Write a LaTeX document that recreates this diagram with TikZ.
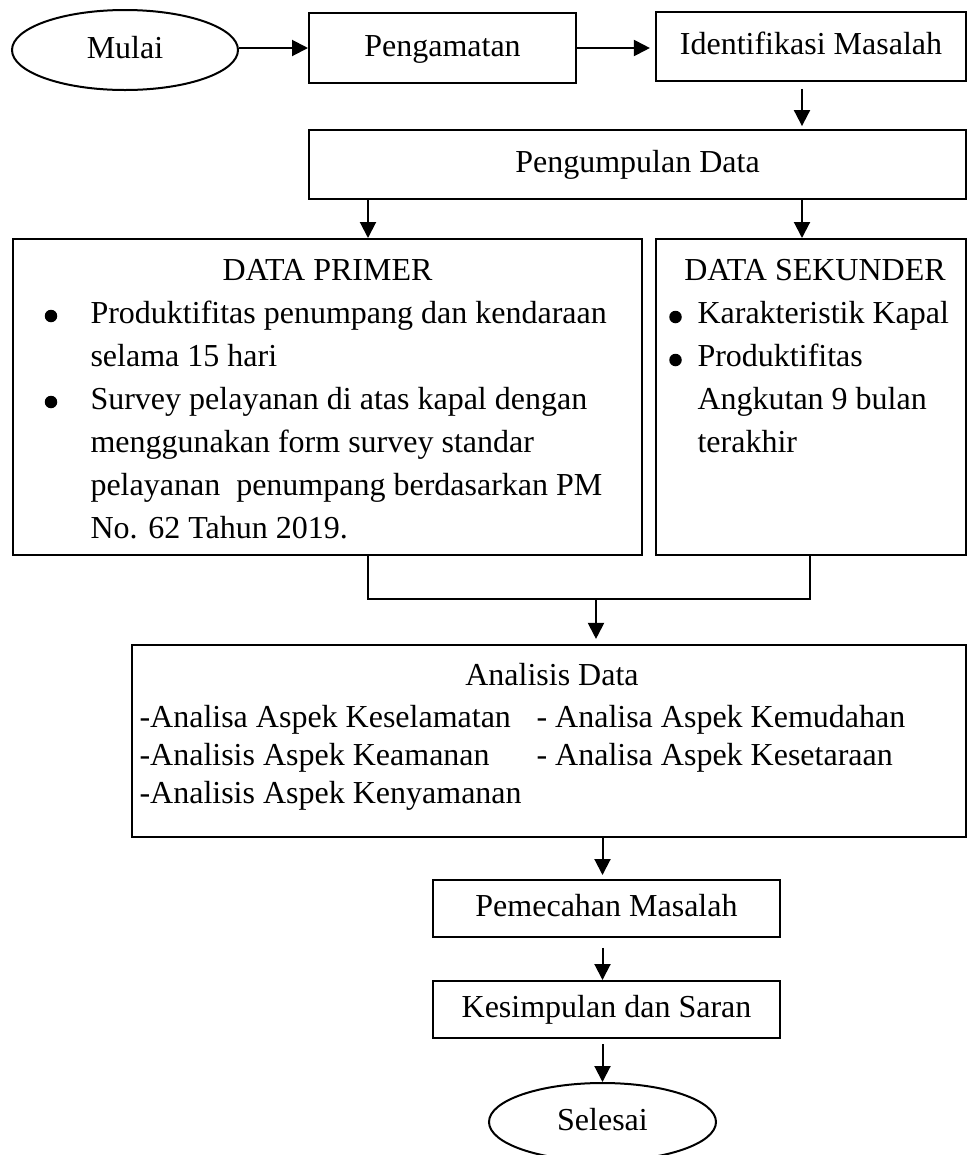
\documentclass[tikz,border=0pt]{standalone}
\usepackage{fontspec}
\setmainfont{Liberation Serif}
\usetikzlibrary{arrows.meta,shapes.geometric}
\newdimen\pxu \pxu=0.375pt
\tikzset{
  box/.style={draw, rectangle, inner sep=0pt, line width=0.75pt, text height=0.7em, text depth=0.1em},
  oval/.style={draw, ellipse, inner sep=0pt, line width=0.75pt, text height=0.7em, text depth=0.1em},
  ttl/.style={inner sep=0pt, anchor=base},
  txt/.style={inner sep=0pt, anchor=base west},
  dot/.style={circle, fill, inner sep=0pt, minimum size=12.5\pxu},
  link/.style={line width=0.75pt},
  arr/.style={link, -{Triangle[length=6pt,width=6pt]}},
}
\begin{document}
\begin{tikzpicture}[x=0.375pt, y=-0.375pt, font=\fontsize{12}{16}\selectfont]
  \useasboundingbox (0,0) rectangle (968,1155);
  \clip (0,0) rectangle (968,1155);

  % top row
  \node[oval, minimum width=226\pxu, minimum height=80\pxu] (mulai) at (125,50) {Mulai};
  \node[box, minimum width=267\pxu, minimum height=70\pxu] (amat) at (442.5,48) {Pengamatan};
  \node[box, minimum width=310\pxu, minimum height=69\pxu] (ident) at (811,46.5) {Identifikasi Masalah};
  \node[box, minimum width=657\pxu, minimum height=69\pxu] (kumpul) at (637.5,164.5) {Pengumpulan Data};

  % data boxes
  \node[box, minimum width=629\pxu, minimum height=316\pxu] (primer) at (327.5,397) {};
  \node[box, minimum width=310\pxu, minimum height=316\pxu] (sekunder) at (811,397) {};

  \node[ttl] (ptitle) at (327.5,280) {DATA PRIMER};
  \node[dot] (pb1) at (51,316) {};
  \node[txt] (p1) at (90,323) {Produktifitas penumpang dan kendaraan};
  \node[txt] (p2) at (90,366) {selama 15 hari};
  \node[dot] (pb2) at (51,402) {};
  \node[txt] (p3) at (90,409) {Survey pelayanan di atas kapal dengan};
  \node[txt] (p4) at (90,452) {menggunakan form survey standar};
  \node[txt] (p5) at (90,495) {pelayanan\ \ penumpang berdasarkan PM};
  \node[txt] (p6) at (90,538) {No. 62 Tahun 2019.};

  \node[ttl] (stitle) at (815,280) {DATA SEKUNDER};
  \node[dot] (sb1) at (675.5,317) {};
  \node[txt] (s1) at (697,323) {Karakteristik Kapal};
  \node[dot] (sb2) at (675.5,360) {};
  \node[txt] (s2) at (697,366) {Produktifitas};
  \node[txt] (s3) at (697,409) {Angkutan 9 bulan};
  \node[txt] (s4) at (697,452) {terakhir};

  % analysis
  \node[box, minimum width=834\pxu, minimum height=192\pxu] (analisis) at (549,741) {};
  \node[ttl] (atitle) at (552,685) {Analisis Data};
  \node[txt] (a1) at (139,727) {-Analisa Aspek Keselamatan};
  \node[txt] (a2) at (139,765) {-Analisis Aspek Keamanan};
  \node[txt] (a3) at (139,803) {-Analisis Aspek Kenyamanan};
  \node[txt] (a4) at (536,727) {- Analisa Aspek Kemudahan};
  \node[txt] (a5) at (536,765) {- Analisa Aspek Kesetaraan};

  % bottom
  \node[box, minimum width=347\pxu, minimum height=57\pxu] (pecah) at (606.5,908.5) {Pemecahan Masalah};
  \node[box, minimum width=347\pxu, minimum height=57\pxu] (simpul) at (606.5,1009.5) {Kesimpulan dan Saran\hspace{5.6pt}};
  \node[oval, minimum width=227\pxu, minimum height=78\pxu] (selesai) at (602.5,1122) {Selesai};

  \coordinate (colA) at (368,0);
  \coordinate (colB) at (802,0);
  \coordinate (colC) at (810,0);
  \coordinate (join) at (596,599);

  \draw[arr] (mulai.east |- amat) -- (amat.west);
  \draw[arr, shorten >=1.9pt] (amat.east) -- (amat.east -| ident.west);
  \draw[arr, shorten <=2.6pt, shorten >=1.1pt] (ident.south -| colB) -- (kumpul.north -| colB);
  \draw[arr] (kumpul.south -| colA) -- (primer.north -| colA);
  \draw[arr] (kumpul.south -| colB) -- (sekunder.north -| colB);
  \draw[link] (primer.south -| colA) |- (join) -| (sekunder.south -| colC);
  \draw[arr, shorten >=1.9pt] (join) -- (analisis.north -| join);
  \draw[arr, shorten >=1.5pt] (analisis.south -| selesai) -- (pecah.north -| selesai);
  \draw[arr, shorten <=3.7pt] (pecah.south -| selesai) -- (simpul.north -| selesai);
  \draw[arr, shorten <=1.9pt] (simpul.south -| selesai) -- (selesai.north);
\end{tikzpicture}
\end{document}
